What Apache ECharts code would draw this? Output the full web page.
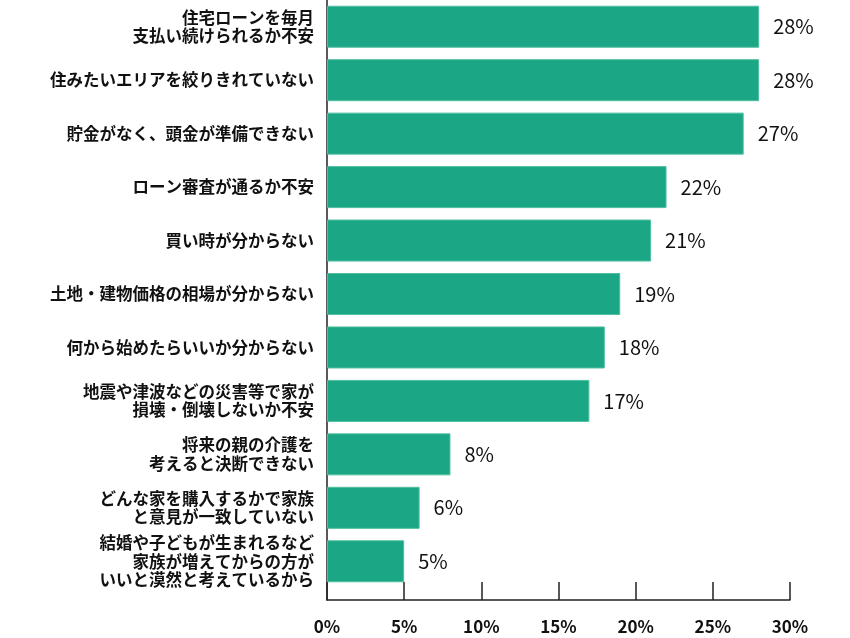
<!DOCTYPE html>
<html>
<head>
<meta charset="utf-8">
<script src="https://cdn.jsdelivr.net/npm/echarts@6/dist/echarts.min.js"></script>
<style>
  html, body { margin: 0; padding: 0; background: #fff; }
  #chart { width: 850px; height: 638px; }
</style>
</head>
<body>
<div id="chart"></div>
<script>
// Reasons for hesitating to buy a home (top to bottom)
const categories = [
  '住宅ローンを毎月\n支払い続けられるか不安',
  '住みたいエリアを絞りきれていない',
  '貯金がなく、頭金が準備できない',
  'ローン審査が通るか不安',
  '買い時が分からない',
  '土地・建物価格の相場が分からない',
  '何から始めたらいいか分からない',
  '地震や津波などの災害等で家が\n損壊・倒壊しないか不安',
  '将来の親の介護を\n考えると決断できない',
  'どんな家を購入するかで家族\nと意見が一致していない',
  '結婚や子どもが生まれるなど\n家族が増えてからの方が\nいいと漠然と考えているから'
];
const values = [28, 28, 27, 22, 21, 19, 18, 17, 8, 6, 5];
const xTicks = [0, 5, 10, 15, 20, 25, 30];

const chart = echarts.init(document.getElementById('chart'), null, { renderer: 'canvas' });

const jpFont = "'Noto Sans CJK JP', 'Noto Sans', sans-serif";
const axisColor = '#222';

chart.setOption({
  animation: false,
  backgroundColor: '#fff',
  grid: [
    { left: 327, right: 60, top: 0, height: 588 },
    { left: 327, right: 60, top: 0, height: 600 }
  ],
  xAxis: [
    {
      gridIndex: 0, type: 'value', min: xTicks[0], max: xTicks[xTicks.length - 1], interval: 5,
      show: false
    },
    {
      gridIndex: 1, type: 'value', min: xTicks[0], max: xTicks[xTicks.length - 1], interval: 5,
      axisLine: { show: true, lineStyle: { color: axisColor, width: 1.5 } },
      axisTick: { show: true, inside: true, length: 18, lineStyle: { color: axisColor, width: 1.5 } },
      axisLabel: {
        margin: 18, color: '#111', fontSize: 17, fontWeight: 'bold', fontFamily: jpFont,
        formatter: v => v + '%'
      },
      splitLine: { show: false }
    }
  ],
  yAxis: [
    {
      gridIndex: 0, type: 'category', inverse: true, data: categories,
      axisLine: { show: false },
      axisTick: { show: false },
      axisLabel: {
        margin: 13, color: '#111', fontSize: 16.5, fontWeight: 'bold',
        fontFamily: jpFont, lineHeight: 18.5, align: 'right'
      }
    },
    {
      gridIndex: 1, type: 'value', min: 0, max: 1,
      axisLine: { show: true, lineStyle: { color: axisColor, width: 1.5 } },
      axisTick: { show: false },
      axisLabel: { show: false },
      splitLine: { show: false }
    }
  ],
  series: [
    {
      type: 'bar',
      xAxisIndex: 0,
      yAxisIndex: 0,
      data: values,
      barWidth: 42,
      itemStyle: { color: '#1ba685', borderColor: '#4fbf9f', borderWidth: 1 },
      label: {
        show: true, position: 'right', distance: 14,
        color: '#111', fontSize: 20, fontFamily: jpFont,
        formatter: p => p.value + '%'
      }
    }
  ]
});
</script>
</body>
</html>
